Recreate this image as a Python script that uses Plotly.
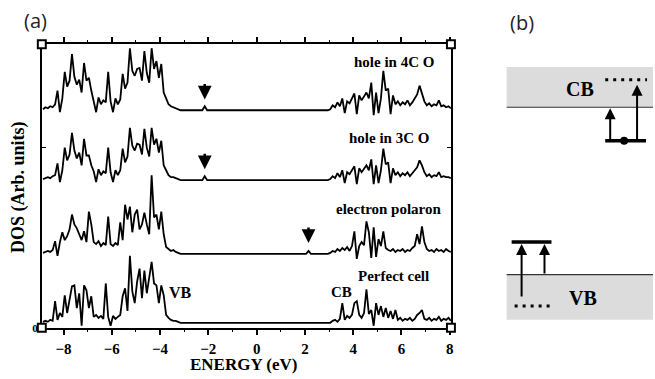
import numpy as np
import plotly.graph_objects as go

W, H = 655, 379

# ---------------- data (panel a) ----------------
energy_start, energy_step, n_points = -8.85, 0.1, 170
energy = np.round(energy_start + energy_step * np.arange(n_points), 2)

curve_names = ["hole in 4C O", "hole in 3C O", "electron polaron", "Perfect cell"]
curve_offsets = [221, 150, 75, 5]

# valence band part, E = -8.85 ... -3.15 (58 values)
vb_4c = [1, 3, 2, 4, 3, 6, 20, -2, 12, 39, 24, 30, 57, 34, 26, 31, 18, 48, 30, 33,
         20, 10, -2, 13, 6, 10, 8, 39, 9, -2, 12, 6, 11, 37, 22, 28, 63, 40, 35, 42,
         43, 30, 60, 38, 28, 63, 42, 50, 33, 47, 18, 12, 6, 4, 3, 2, 1, 0]
vb_3c = [1, 2, 3, 2, 4, 5, 17, -2, 10, 33, 20, 26, 48, 30, 22, 28, 15, 42, 25, 25,
         15, 9, -2, 11, 5, 9, 7, 33, 8, -2, 10, 5, 10, 32, 18, 24, 53, 35, 30, 37,
         36, 26, 52, 33, 24, 53, 36, 42, 28, 40, 15, 10, 5, 3, 3, 2, 1, 0]
vb_ep = [1, 2, 3, 2, 4, 13, -2, 12, 22, 14, 18, 25, 40, 30, 26, 20, 14, 23, 12, 43,
         30, 12, 10, 13, 8, 11, 9, 38, 10, 8, 11, 9, 32, 14, 50, 35, 48, 22, 40, 45,
         25, 30, 42, 30, 20, 80, 37, 40, 25, 43, 20, 7, 5, 3, 4, 2, 1, 0]
vb_pf = [1, 2, 1, 3, 2, 22, 3, 10, 6, 28, 10, 24, 37, 38, 15, 30, -3, 38, 33, 15,
         27, 6, 8, 5, 7, 4, 40, 6, -3, 7, 4, 6, 8, 27, 35, 12, 68, 32, 20, 42,
         55, 25, 53, 30, 45, 62, 40, 38, 20, 38, 28, 8, 5, 3, 2, 2, 1, 0]

# gap part, E = -3.05 ... 2.95 (61 values) with the localized states
gap_4c = [0] * 9 + [4] + [0] * 51
gap_3c = [0] * 9 + [4] + [0] * 51
gap_ep = [0] * 52 + [3] + [0] * 8
gap_pf = [0] * 61

# conduction band part, E = 3.05 ... 8.05 (51 values)
cb_4c = [1, 5, 3, 8, 4, 12, -3, 9, 7, 12, 17, -4, 15, 10, 14, 18, 12, 28, -5, 18,
         -3, 12, 40, 20, 22, -4, 15, 6, 9, 5, 8, 6, 10, 5, 8, 12, 16, 25, 18, 9,
         5, 7, 4, 6, 5, 10, 4, 5, 3, 4, 2]
cb_3c = [1, 4, 2, 7, 3, 10, -3, 8, 6, 10, 14, -4, 12, 8, 12, 15, 10, 21, -4, 15,
         -3, 10, 32, 16, 18, -3, 12, 5, 8, 4, 7, 5, 8, 4, 7, 10, 13, 20, 15, 8,
         4, 6, 3, 5, 4, 8, 3, 4, 3, 3, 2]
cb_ep = [1, 3, 2, 5, 3, 6, 4, 7, 3, 8, 23, -5, 8, 12, 9, 33, 22, -4, 27, -3,
         15, 8, 23, 6, 4, 3, 5, 2, 4, 3, 5, 2, 4, 3, 6, 8, 20, 10, 28, 12,
         5, 3, 4, 2, 5, 3, 4, 2, 5, 3, 2]
cb_pf = [0, 2, 3, 1, 4, 20, 3, 7, 5, 8, 20, 22, 8, 5, 10, 34, 9, 13, -3, 20,
         8, 17, 6, 15, 5, 12, 4, 13, 3, 5, 2, 4, 3, 5, 2, 4, 8, 10, 13, 4,
         3, 5, 2, 4, 3, 6, 2, 4, 3, 5, 2]

dos_curves = [vb_4c + gap_4c + cb_4c,
              vb_3c + gap_3c + cb_3c,
              vb_ep + gap_ep + cb_ep,
              vb_pf + gap_pf + cb_pf]

# localized-state arrows: (energy, curve index)
state_energies = [-2.15, -2.15, 2.15]
state_curves = [0, 1, 2]

x_ticks = [-8, -6, -4, -2, 0, 2, 4, 6, 8]

SERIF = "Liberation Serif"

fig = go.Figure()
for name, off, dos in zip(curve_names, curve_offsets, dos_curves):
    fig.add_trace(go.Scatter(
        x=energy, y=np.array(dos) + off, mode="lines", name=name,
        line=dict(color="black", width=1.8), showlegend=False, hoverinfo="skip"))

annotations = []
# curve labels
label_pos = [(5.68, 270), (5.48, 193), (5.48, 121), (5.68, 53)]
for name, (lx, ly) in zip(curve_names, label_pos):
    annotations.append(dict(x=lx, y=ly, xref="x", yref="y", text=name, showarrow=False,
                            xanchor="center", yanchor="middle",
                            font=dict(family=SERIF, size=15, color="black", weight="bold")))
annotations.append(dict(x=3.5, y=36, xref="x", yref="y", text="CB", showarrow=False,
                        xanchor="center", yanchor="middle",
                        font=dict(family=SERIF, size=15, color="black", weight="bold")))
annotations.append(dict(x=-3.14, y=36, xref="x", yref="y", text="VB", showarrow=False,
                        xanchor="center", yanchor="middle",
                        font=dict(family=SERIF, size=16, color="black", weight="bold")))

# arrows to localized states
for e, ci in zip(state_energies, state_curves):
    annotations.append(dict(x=e, y=curve_offsets[ci] + 11, xref="x", yref="y", text="",
                            showarrow=True, ax=0, ay=-17, arrowhead=2, arrowsize=1.1,
                            arrowwidth=2.5, arrowcolor="black", standoff=0))

def P(px, py):
    return px / W, 1 - py / H

# axis titles
ax_, ay_ = P(245, 370)
annotations.append(dict(x=ax_, y=ay_, xref="paper", yref="paper", text="ENERGY (eV)",
                        showarrow=False, xanchor="center", yanchor="middle",
                        font=dict(family=SERIF, size=17, color="black", weight="bold")))
ax_, ay_ = P(19, 190)
annotations.append(dict(x=ax_, y=ay_, xref="paper", yref="paper", text="DOS (Arb. units)",
                        showarrow=False, textangle=-90, xanchor="center", yanchor="middle",
                        font=dict(family=SERIF, size=18, color="black", weight="bold")))
# panel labels
for t, (px, py) in [("(a)", (36, 21)), ("(b)", (524, 23))]:
    xx, yy = P(px, py)
    annotations.append(dict(x=xx, y=yy, xref="paper", yref="paper", text=t, showarrow=False,
                            xanchor="center", yanchor="middle",
                            font=dict(family="Open Sans", size=20, color="#222")))

# ---------------- panel b schematic ----------------
shapes = []
GRAY = "#dcdcdc"

def rect(x0, y0, x1, y1, **kw):
    a, b = P(x0, y0)
    c, d = P(x1, y1)
    shapes.append(dict(type="rect", xref="paper", yref="paper", x0=a, y0=d, x1=c, y1=b, **kw))

def line(x0, y0, x1, y1, **kw):
    a, b = P(x0, y0)
    c, d = P(x1, y1)
    shapes.append(dict(type="line", xref="paper", yref="paper", x0=a, y0=b, x1=c, y1=d, **kw))

rect(509, 68, 656, 109, fillcolor=GRAY, line=dict(width=0), layer="below")
line(509, 109, 656, 109, line=dict(color="#333", width=1.2))
rect(509, 279, 656, 325, fillcolor=GRAY, line=dict(width=0), layer="below")
line(509, 279, 656, 279, line=dict(color="#333", width=1.2))

line(608, 81, 650, 81, line=dict(color="black", width=3, dash="3px,5px"))
line(517, 311, 557, 311, line=dict(color="black", width=3, dash="3px,5px"))
line(608, 143, 649, 143, line=dict(color="black", width=3.5))
line(514, 246, 554, 246, line=dict(color="black", width=3.5))
a, b = P(623, 139)
c, d = P(631, 147)
shapes.append(dict(type="circle", xref="paper", yref="paper", x0=a, y0=d, x1=c, y1=b,
                   fillcolor="black", line=dict(color="black", width=0)))

for (px, py_tip, length) in [(613, 110, 33), (640, 86, 57), (524, 248, 54), (547, 248, 31)]:
    xx, yy = P(px, py_tip)
    annotations.append(dict(x=xx, y=yy, xref="paper", yref="paper", text="", showarrow=True,
                            ax=0, ay=length, arrowhead=2, arrowsize=1.1, arrowwidth=2,
                            arrowcolor="black", standoff=0))

for t, (px, py) in [("CB", (583, 90)), ("VB", (586, 303))]:
    xx, yy = P(px, py)
    annotations.append(dict(x=xx, y=yy, xref="paper", yref="paper", text=t, showarrow=False,
                            xanchor="center", yanchor="middle",
                            font=dict(family=SERIF, size=20, color="black", weight="bold")))

# corner markers of panel a frame
for (cx, cy) in [(42, 45), (453, 45), (42, 333), (453, 333)]:
    rect(cx - 4, cy - 4, cx + 4, cy + 4, fillcolor="white",
         line=dict(color="black", width=2), layer="above")

fig.update_layout(
    width=W, height=H,
    margin=dict(l=0, r=0, t=0, b=0, pad=0),
    paper_bgcolor="white", plot_bgcolor="rgba(0,0,0,0)",
    shapes=shapes, annotations=annotations,
    xaxis=dict(domain=[42 / W, 453 / W], range=[-8.9, 8.05], tickvals=x_ticks,
               ticks="outside", ticklen=6, tickwidth=1.5, tickcolor="black",
               ticklabelstandoff=1,
               minor=dict(dtick=1, tick0=-9, ticks="outside", ticklen=3, tickwidth=1.2,
                          tickcolor="black", showgrid=False),
               showline=True, linecolor="black", linewidth=1.5, mirror="ticks",
               showgrid=False, zeroline=False,
               tickfont=dict(family=SERIF, size=15, color="black", weight="bold")),
    yaxis=dict(domain=[46 / H, 334 / H], range=[0, 288], tickvals=[0, 183],
               ticktext=["0", ""], ticks="inside", ticklen=4, tickwidth=1.2,
               tickcolor="black", showline=True, linecolor="black", linewidth=1.5,
               mirror="ticks", showgrid=False, zeroline=False,
               tickfont=dict(family=SERIF, size=11, color="black", weight="bold")),
)

fig.write_html("out.html", config={"displayModeBar": False},
               post_script="document.body.style.margin='0';document.body.style.overflow='hidden';")
